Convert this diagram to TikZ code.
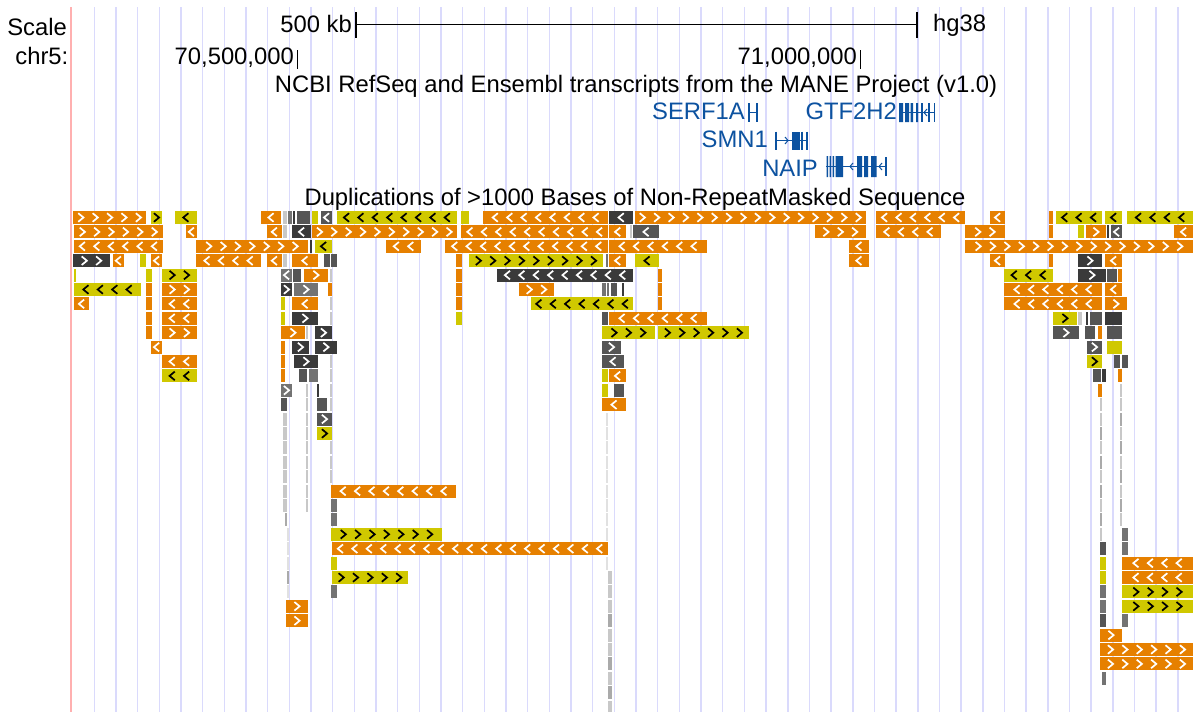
\documentclass[tikz,border=0pt]{standalone}
\usepackage{fontspec}
\setmainfont{Liberation Sans}
\definecolor{cO}{RGB}{230,128,0}
\definecolor{cY}{RGB}{208,200,0}
\definecolor{cD}{RGB}{58,58,58}
\definecolor{cG}{RGB}{85,85,85}
\definecolor{cM}{RGB}{115,115,115}
\definecolor{cA}{RGB}{170,170,170}
\definecolor{cL}{RGB}{200,200,200}
\definecolor{cV}{RGB}{225,225,225}
\definecolor{gridc}{RGB}{218,218,252}
\definecolor{pinkc}{RGB}{255,176,176}
\definecolor{geneb}{RGB}{12,82,160}
\def\chvO{white}\def\chvY{black}\def\chvD{white}\def\chvG{white}\def\chvM{white}\def\chvA{white}\def\chvL{white}\def\chvV{white}
\newcommand\blk[5]{%
  \pgfmathsetmacro\yt{211+14.4*(#3)}%
  \fill[c#4] (#1,\yt) rectangle (#2,\yt+13);
  \if#5n\else
    \if#5r\def\sg{1}\else\def\sg{-1}\fi
    \pgfmathsetmacro\bw{#2-#1}%
    \pgfmathtruncatemacro\nch{max(1,floor(\bw/14.4))}%
    \pgfmathsetmacro\xs{#1+\bw/2-(\nch-1)*7.2}%
    \foreach \k in {1,...,\nch}{%
      \pgfmathsetmacro\cx{\xs+(\k-1)*14.4}%
      \draw[chev,draw=\csname chv#4\endcsname] (\cx-2.6*\sg,\yt+2.2) -- (\cx+2.6*\sg,\yt+6.5) -- (\cx-2.6*\sg,\yt+10.8);
    }%
  \fi
}
\newcommand\col[4]{% x1 x2 rowfrom rowto
  \foreach \r in {#3,...,#4}{\blk{#1}{#2}{\r}{L}{n}}}
\tikzset{
  chev/.style={line width=1.7pt,line cap=butt,line join=miter},
  lbl/.style={inner sep=0pt,font=\fontsize{23.8}{24}\selectfont},
  genelbl/.style={lbl,text=geneb},
  gridline/.style={draw=gridc,line width=1.5pt},
  gene/.style={draw=geneb,line width=1.2pt},
  exon/.style={fill=geneb}
}
\begin{document}
\begin{tikzpicture}[x=1pt,y=-1pt]
\useasboundingbox (0,0) rectangle (1193,712);
\fill[white] (0,0) rectangle (1193,712);
% grid
\foreach \k in {0,...,50}{\draw[gridline] (94.3+21.67*\k,7) -- (94.3+21.67*\k,712);}
\draw[draw=pinkc,line width=2pt] (71,7) -- (71,712);
% header texts
\node[lbl,anchor=base east] (scale) at (67,35) {Scale};
\node[lbl,anchor=base east] (chr) at (68.5,64.3) {chr5:};
\node[lbl,anchor=base east] (kb) at (352,32) {500 kb};
\node[lbl,anchor=base west] (hg) at (933,31) {hg38};
\coordinate (sbL) at (356,24.5);
\coordinate (sbR) at (917,24.5);
\draw[line width=1.2pt] (sbL) -- (sbR);
\draw[line width=1.5pt] (356,12) -- (356,38) (917,12) -- (917,38);
\node[lbl,anchor=base east] (p1) at (294,64.3) {70,500,000};
\draw[line width=1.6pt] (297.5,50) -- (297.5,68.5);
\node[lbl,anchor=base east] (p2) at (857,64.3) {71,000,000};
\draw[line width=1.6pt] (860.5,50) -- (860.5,68.5);
\node[lbl,anchor=base] (t1) at (636,92) {NCBI RefSeq and Ensembl transcripts from the MANE Project (v1.0)};
\node[lbl,anchor=base] (t2) at (635,205.5) {Duplications of >1000 Bases of Non-RepeatMasked Sequence};
% genes
\node[genelbl,anchor=base east] (serf) at (745,119.3) {SERF1A};
\draw[gene] (749,103) -- (749,122) (757,103) -- (757,122) (749,112.5) -- (757,112.5);
\node[genelbl,anchor=base east] (gtf) at (897,119.3) {GTF2H2};
\draw[gene] (899,112.5) -- (935,112.5);
\fill[geneb] (899,103) rectangle (903,122) (905,103) rectangle (909,122) (910.5,103) rectangle (913,122) (916,103) rectangle (918,122);
\draw[gene] (922,103) -- (922,122) (929,103) -- (929,122) (934.5,103) -- (934.5,122);
\draw[gene,line width=1pt] (927,109) -- (924,112.5) -- (927,116);
\node[genelbl,anchor=base east] (smn) at (768,147.3) {SMN1};
\draw[gene] (776,131.5) -- (776,150) (776,140.5) -- (807,140.5) (802,131.5) -- (802,150) (807,131.5) -- (807,150);
\fill[geneb] (792,131.5) rectangle (800,150);
\draw[gene,line width=1pt] (785,137) -- (788,140.5) -- (785,144);
\node[genelbl,anchor=base east] (naip) at (818,176) {NAIP};
\draw[gene] (826,166.5) -- (887,166.5) (886,157) -- (886,176);
\fill[geneb] (826.5,156) rectangle (828,177) (829.5,156) rectangle (831,177) (832.5,156) rectangle (834,177) (835.5,156) rectangle (843,177) (857,156) rectangle (862,177) (864,156) rectangle (868,177) (871,156) rectangle (876.5,177);
\draw[gene,line width=1pt] (853,163) -- (850,166.5) -- (853,170) (882,163) -- (879,166.5) -- (882,170);
% ---- duplications ----
% row 0
\blk{73.3}{146}{0}{O}{r}\blk{151}{162}{0}{Y}{r}\blk{175}{196.7}{0}{Y}{l}\blk{261}{281}{0}{O}{l}
\blk{283}{287}{0}{L}{n}\blk{288}{292}{0}{M}{n}\blk{293.3}{295.3}{0}{D}{n}\blk{296.7}{309.7}{0}{G}{n}
\blk{312}{317.7}{0}{Y}{n}\blk{321}{332}{0}{G}{l}\blk{337}{456.7}{0}{Y}{l}\blk{461}{469}{0}{Y}{n}
\blk{483}{608.3}{0}{O}{l}\blk{609}{633.3}{0}{D}{l}\blk{635}{865.7}{0}{O}{r}\blk{876}{965}{0}{O}{l}
\blk{990}{1005}{0}{O}{l}\blk{1049}{1053}{0}{O}{n}\blk{1056}{1102}{0}{Y}{l}\blk{1105}{1122}{0}{Y}{l}\blk{1127}{1193}{0}{Y}{l}
% row 1
\blk{74}{162.7}{1}{O}{r}\blk{186}{196.7}{1}{O}{l}\blk{267}{281.7}{1}{O}{l}\blk{283}{287}{1}{L}{n}
\blk{292}{311}{1}{D}{l}\blk{312}{456.7}{1}{O}{r}\blk{461}{608.3}{1}{O}{l}\blk{609.3}{626}{1}{O}{l}
\blk{629.5}{631.5}{1}{L}{n}\blk{633}{659}{1}{G}{l}\blk{815}{865.7}{1}{O}{r}\blk{876}{940.7}{1}{O}{l}
\blk{965}{1005}{1}{O}{r}\blk{1049}{1053}{1}{O}{n}\blk{1078}{1084}{1}{Y}{n}\blk{1086}{1106}{1}{O}{r}
\blk{1107}{1109}{1}{D}{n}\blk{1111}{1122}{1}{G}{l}\blk{1174}{1193}{1}{O}{l}
% row 2
\blk{74}{162.7}{2}{O}{l}\blk{196}{308}{2}{O}{r}\blk{310}{312}{2}{D}{n}\blk{315}{332}{2}{Y}{l}
\blk{386}{421}{2}{O}{l}\blk{445}{608.3}{2}{O}{l}\blk{609}{707}{2}{O}{l}\blk{849}{868.7}{2}{O}{l}\blk{965}{1193}{2}{O}{r}
% row 3
\blk{73}{110}{3}{D}{r}\blk{113}{123.7}{3}{O}{l}\blk{140}{146}{3}{Y}{n}\blk{151}{162}{3}{O}{l}
\blk{196}{261}{3}{O}{l}\blk{267}{281.7}{3}{O}{l}\blk{283}{287}{3}{L}{n}\blk{292}{317.7}{3}{O}{l}
\blk{324}{329.7}{3}{G}{n}\blk{331}{336.7}{3}{G}{n}\blk{456}{462}{3}{O}{n}\blk{469}{603}{3}{Y}{r}
\blk{606}{608}{3}{M}{n}\blk{609.3}{626}{3}{O}{l}\blk{635}{659}{3}{Y}{l}\blk{849}{868.7}{3}{O}{l}
\blk{990}{1005}{3}{O}{l}\blk{1049}{1053}{3}{O}{n}\blk{1078}{1102}{3}{D}{r}\blk{1105}{1122}{3}{O}{l}
% row 4
\blk{74}{76}{4}{Y}{n}\blk{146}{152}{4}{Y}{n}\blk{162}{196.7}{4}{Y}{r}\blk{281}{292}{4}{M}{l}
\blk{293}{301}{4}{G}{n}\blk{304}{328}{4}{O}{r}\blk{330}{332}{4}{L}{n}\blk{456}{462}{4}{O}{n}
\blk{497}{633}{4}{D}{l}\blk{658}{662}{4}{O}{n}\blk{1004}{1053}{4}{Y}{l}\blk{1078}{1106}{4}{D}{r}
\blk{1107}{1117}{4}{G}{n}\blk{1118}{1122}{4}{O}{n}
% row 5
\blk{74}{141}{5}{Y}{l}\blk{146}{152}{5}{O}{n}\blk{162}{196.7}{5}{O}{r}\blk{281}{292}{5}{D}{r}
\blk{294}{318}{5}{M}{r}\blk{328}{332}{5}{O}{n}\blk{456}{462}{5}{O}{n}\blk{519}{554}{5}{O}{r}
\blk{602}{606}{5}{M}{n}\blk{607.3}{609.3}{5}{M}{n}\blk{611}{617}{5}{G}{n}\blk{622}{624}{5}{D}{n}
\blk{658}{662}{5}{O}{n}\blk{1004}{1102}{5}{O}{l}\blk{1105}{1122}{5}{O}{l}
% row 6
\blk{74}{89}{6}{O}{l}\blk{146}{152}{6}{O}{n}\blk{162}{196.7}{6}{O}{l}\blk{281}{285}{6}{Y}{n}
\blk{292}{318}{6}{O}{l}\blk{330}{332}{6}{L}{n}\blk{456}{462}{6}{O}{n}\blk{531}{633}{6}{Y}{l}
\blk{658}{662}{6}{O}{n}\blk{1004}{1102}{6}{O}{l}\blk{1105}{1127}{6}{O}{r}
% row 7
\blk{146}{152}{7}{O}{n}\blk{162}{196.7}{7}{O}{l}\blk{281}{285}{7}{Y}{n}\blk{292}{318}{7}{D}{r}
\blk{330}{332}{7}{L}{n}\blk{456}{462}{7}{Y}{n}\blk{602}{608}{7}{G}{n}\blk{609}{707}{7}{O}{l}
\blk{1053}{1077}{7}{Y}{r}\blk{1078}{1082}{7}{L}{n}\blk{1086}{1088}{7}{D}{n}\blk{1090}{1102}{7}{G}{n}\blk{1105}{1122}{7}{D}{n}
% row 8
\blk{146}{152}{8}{O}{n}\blk{162}{196.7}{8}{O}{r}\blk{281}{305}{8}{O}{r}\blk{306}{308}{8}{L}{n}
\blk{315}{332}{8}{D}{r}\blk{602}{655}{8}{Y}{r}\blk{658}{749}{8}{Y}{r}\blk{1053}{1079}{8}{G}{r}
\blk{1085}{1095}{8}{G}{n}\blk{1098}{1102}{8}{O}{n}\blk{1107}{1122}{8}{G}{n}
% row 9
\blk{151}{162}{9}{O}{l}\blk{281}{285}{9}{O}{n}\blk{292}{309}{9}{D}{r}\blk{315}{337}{9}{D}{r}
\blk{602}{621}{9}{G}{r}\blk{1087}{1102}{9}{G}{r}\blk{1107}{1122}{9}{Y}{n}
% row 10
\blk{162}{196.7}{10}{O}{l}\blk{281}{285}{10}{O}{n}\blk{294}{318}{10}{D}{r}\blk{330}{332}{10}{L}{n}
\blk{602}{624}{10}{G}{l}\blk{1087}{1102}{10}{Y}{r}\blk{1114}{1120}{10}{G}{n}\blk{1122}{1128}{10}{G}{n}
% row 11
\blk{162}{196.7}{11}{Y}{l}\blk{281}{285}{11}{O}{n}\blk{299}{307}{11}{G}{n}\blk{309}{318}{11}{M}{n}
\blk{330}{332}{11}{L}{n}\blk{602}{608}{11}{Y}{n}\blk{609}{626}{11}{O}{l}\blk{1093}{1101}{11}{G}{n}
\blk{1102}{1106}{11}{D}{n}\blk{1118}{1122}{11}{O}{n}
% row 12
\blk{281}{292}{12}{M}{r}\blk{317}{319}{12}{D}{n}\blk{602}{608}{12}{Y}{n}\blk{614}{624}{12}{G}{n}\blk{1098}{1102}{12}{O}{n}
% row 13
\blk{281}{287}{13}{G}{n}\blk{317}{327}{13}{G}{n}\blk{602}{626}{13}{O}{l}
% row 14-15
\blk{317}{332}{14}{G}{r}\blk{317}{332}{15}{Y}{r}
% light columns
\col{283}{287}{14}{20}
\col{306}{308}{12}{20}
\col{330}{332}{12}{13}
\col{330}{332}{16}{18}
\col{1100}{1102}{13}{22}
\col{1120}{1122}{12}{21}
\foreach \r in {14,...,24}{\blk{606}{608}{\r}{V}{n}}
\foreach \r in {22,...,26}{\blk{287}{289}{\r}{V}{n}}
\foreach \r in {25,...,33}{\blk{608}{612}{\r}{L}{n}}
\fill[cL] (608,211+14.4*34) rectangle (612,712);
\foreach \r in {15,17,19,21}{\blk{1100}{1102}{\r}{A}{n}}
\foreach \r in {14,16,18,20}{\blk{1120}{1122}{\r}{A}{n}}
\foreach \r in {28,31,33}{\blk{608}{612}{\r}{A}{n}}
% rows 19+
\blk{331}{456}{19}{O}{l}
\blk{331}{337}{20}{M}{n}
\blk{285}{287}{21}{A}{n}\blk{331}{337}{21}{M}{n}
\blk{331}{442}{22}{Y}{r}\blk{1122}{1128}{22}{M}{n}
\blk{332}{608}{23}{O}{l}\blk{1100}{1106}{23}{G}{n}\blk{1122}{1128}{23}{M}{n}
\blk{331}{337}{24}{Y}{n}\blk{1100}{1106}{24}{Y}{n}\blk{1122}{1193}{24}{O}{l}
\blk{287}{289}{25}{A}{n}\blk{332}{408}{25}{Y}{r}\blk{1100}{1106}{25}{Y}{n}\blk{1122}{1193}{25}{O}{l}
\blk{331}{337}{26}{M}{n}\blk{1100}{1106}{26}{M}{n}\blk{1122}{1193}{26}{Y}{r}
\blk{286}{308}{27}{O}{r}\blk{1100}{1106}{27}{M}{n}\blk{1122}{1193}{27}{Y}{r}
\blk{286}{308}{28}{O}{r}\blk{1100}{1106}{28}{G}{n}\blk{1122}{1128}{28}{M}{n}
\blk{1100}{1122}{29}{O}{r}
\blk{1100}{1193}{30}{O}{r}
\blk{1100}{1193}{31}{O}{r}
\blk{1102}{1106}{32}{M}{n}
\end{tikzpicture}
\end{document}
